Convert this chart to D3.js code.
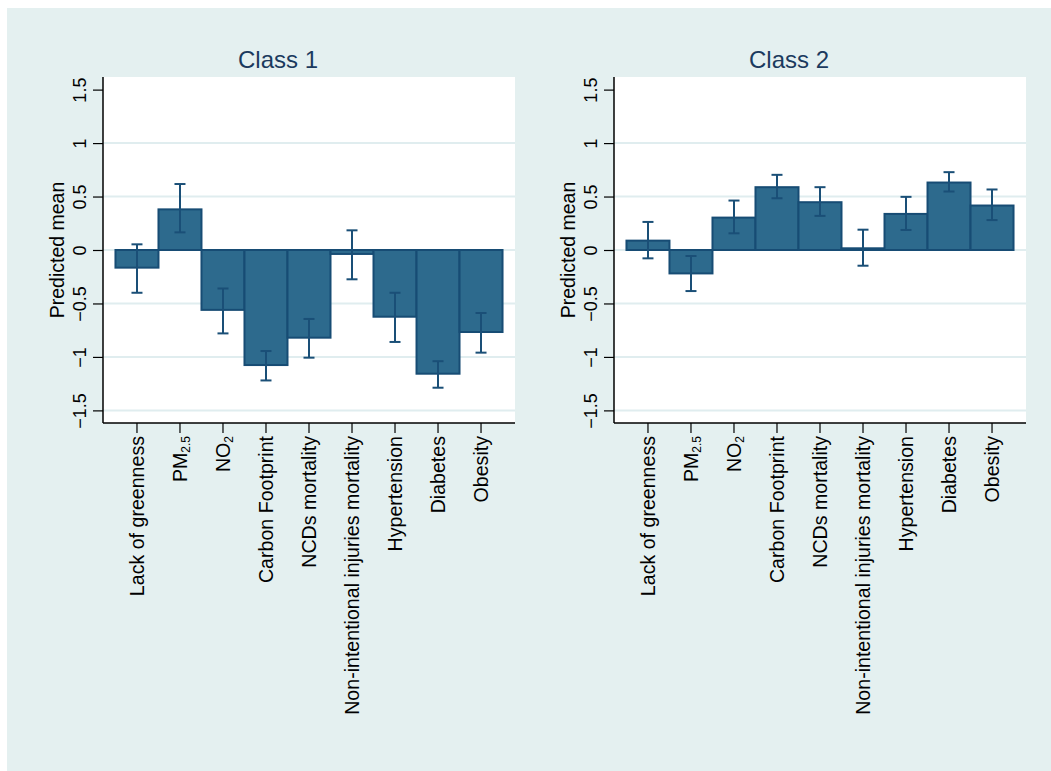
<!DOCTYPE html>
<html>
<head>
<meta charset="utf-8">
<script src="https://cdn.jsdelivr.net/npm/d3@7"></script>
<style>
  html, body { margin: 0; padding: 0; background: #ffffff; }
  svg { display: block; font-family: "Liberation Sans", Arial, Helvetica, sans-serif; }
</style>
</head>
<body>
<svg id="chart" width="1051" height="771"></svg>
<script>
// Indicator names (main text + optional subscript)
const categories = ["Lack of greenness", "PM2.5", "NO2", "Carbon Footprint", "NCDs mortality",
  "Non-intentional injuries mortality", "Hypertension", "Diabetes", "Obesity"];
const labelMain = ["Lack of greenness", "PM", "NO", "Carbon Footprint", "NCDs mortality",
  "Non-intentional injuries mortality", "Hypertension", "Diabetes", "Obesity"];
const labelSub = ["", "2.5", "2", "", "", "", "", "", ""];

// Predicted means and confidence limits per latent class
const class1Mean = [-0.165, 0.38, -0.56, -1.076, -0.82, -0.037, -0.624, -1.157, -0.767];
const class1Lo   = [-0.40, 0.165, -0.78, -1.22, -1.007, -0.274, -0.86, -1.288, -0.96];
const class1Hi   = [0.053, 0.617, -0.36, -0.945, -0.645, 0.184, -0.40, -1.04, -0.589];

const class2Mean = [0.0875, -0.219, 0.303, 0.5875, 0.447, 0.016, 0.3375, 0.631, 0.416];
const class2Lo   = [-0.078, -0.384, 0.156, 0.484, 0.319, -0.147, 0.1875, 0.547, 0.28];
const class2Hi   = [0.2625, -0.056, 0.4625, 0.703, 0.5875, 0.19, 0.497, 0.728, 0.566];

const panelTitles = ["Class 1", "Class 2"];
const yTicks = [-1.5, -1, -0.5, 0, 0.5, 1, 1.5];
const yGrid = [-1.5, -1, -0.5, 0, 0.5, 1];
const yTitle = "Predicted mean";

const panels = [
  { title: panelTitles[0], mean: class1Mean, lo: class1Lo, hi: class1Hi },
  { title: panelTitles[1], mean: class2Mean, lo: class2Lo, hi: class2Hi }
];

const svg = d3.select("#chart");
const bg = "#e4f0f0";
const barFill = "#2d6a8d";
const barStroke = "#174c74";
const ciColor = "#1a4f77";

svg.append("rect").attr("x", 7).attr("y", 8).attr("width", 1044).attr("height", 763).attr("fill", bg);

const plotTop = 77, plotBottom = 423, plotW = 412;
const panelLeft = [103, 614];

const y = d3.scaleLinear().domain([-1.618, 1.618]).range([plotBottom, plotTop]);
const fmt = v => (v < 0 ? "\u2212" : "") + Math.abs(v);

panels.forEach((p, pi) => {
  const left = panelLeft[pi];
  const g = svg.append("g");
  const x = d3.scaleBand().domain(categories).range([left, left + plotW])
    .paddingInner(0).paddingOuter(0.29);

  // plot region
  g.append("rect").attr("x", left).attr("y", plotTop).attr("width", plotW)
    .attr("height", plotBottom - plotTop).attr("fill", "#ffffff");

  // gridlines
  g.selectAll(".grid").data(yGrid).join("line")
    .attr("x1", left).attr("x2", left + plotW)
    .attr("y1", d => y(d)).attr("y2", d => y(d))
    .attr("stroke", "#e0edef").attr("stroke-width", 2);

  // bars
  g.selectAll(".bar").data(categories).join("rect")
    .attr("x", d => x(d))
    .attr("width", x.bandwidth())
    .attr("y", (d, i) => y(Math.max(0, p.mean[i])))
    .attr("height", (d, i) => Math.abs(y(p.mean[i]) - y(0)))
    .attr("fill", barFill).attr("stroke", barStroke).attr("stroke-width", 2);

  // confidence intervals
  const cap = 5.5;
  const ci = g.selectAll(".ci").data(categories).join("g")
    .attr("stroke", ciColor).attr("stroke-width", 2).attr("fill", "none");
  ci.append("line")
    .attr("x1", d => x(d) + x.bandwidth() / 2).attr("x2", d => x(d) + x.bandwidth() / 2)
    .attr("y1", (d, i) => y(p.lo[i])).attr("y2", (d, i) => y(p.hi[i]));
  ci.append("line")
    .attr("x1", d => x(d) + x.bandwidth() / 2 - cap).attr("x2", d => x(d) + x.bandwidth() / 2 + cap)
    .attr("y1", (d, i) => y(p.hi[i])).attr("y2", (d, i) => y(p.hi[i]));
  ci.append("line")
    .attr("x1", d => x(d) + x.bandwidth() / 2 - cap).attr("x2", d => x(d) + x.bandwidth() / 2 + cap)
    .attr("y1", (d, i) => y(p.lo[i])).attr("y2", (d, i) => y(p.lo[i]));

  // y axis
  const ya = g.append("g").attr("transform", `translate(${left},0)`)
    .call(d3.axisLeft(y).tickValues(yTicks).tickSize(10).tickSizeOuter(0).tickFormat(fmt));
  ya.select(".domain").attr("d", `M0,${plotTop}V${plotBottom}`).attr("stroke", "#000").attr("stroke-width", 1.5);
  ya.selectAll(".tick line").attr("stroke", "#000").attr("stroke-width", 1.2);
  ya.selectAll(".tick text")
    .attr("x", null).attr("dy", null)
    .attr("transform", "translate(-17,0) rotate(-90)")
    .attr("text-anchor", "middle")
    .attr("fill", "#000")
    .style("font-size", "18px")
    .style("font-family", "'Liberation Sans', Arial, sans-serif");

  // x axis
  const xa = g.append("g").attr("transform", `translate(0,${plotBottom})`)
    .call(d3.axisBottom(x).tickSize(10).tickSizeOuter(0).tickFormat(""));
  xa.select(".domain").attr("d", `M${left},0H${left + plotW}`).attr("stroke", "#000").attr("stroke-width", 1.5);
  xa.selectAll(".tick line").attr("stroke", "#000").attr("stroke-width", 1.2);

  const lbl = g.selectAll(".xlab").data(categories).join("text")
    .attr("transform", d => `translate(${x(d) + x.bandwidth() / 2},436) rotate(-90)`)
    .attr("text-anchor", "end")
    .attr("dy", "0.35em")
    .attr("fill", "#000")
    .style("font-size", "19.6px");
  lbl.append("tspan").text((d, i) => labelMain[i]);
  lbl.filter((d, i) => labelSub[i] !== "")
    .append("tspan")
    .attr("dy", "0.3em")
    .style("font-size", "12px")
    .text(d => labelSub[categories.indexOf(d)]);

  // y title
  g.append("text")
    .attr("transform", `translate(${left - 39},${(plotTop + plotBottom) / 2}) rotate(-90)`)
    .attr("text-anchor", "middle")
    .attr("fill", "#000")
    .style("font-size", "19.5px")
    .text(yTitle);

  // panel title
  g.append("text")
    .attr("x", left + 175).attr("y", 68)
    .attr("text-anchor", "middle")
    .attr("fill", "#1b3a5e")
    .style("font-size", "24px")
    .text(p.title);
});
</script>
</body>
</html>
